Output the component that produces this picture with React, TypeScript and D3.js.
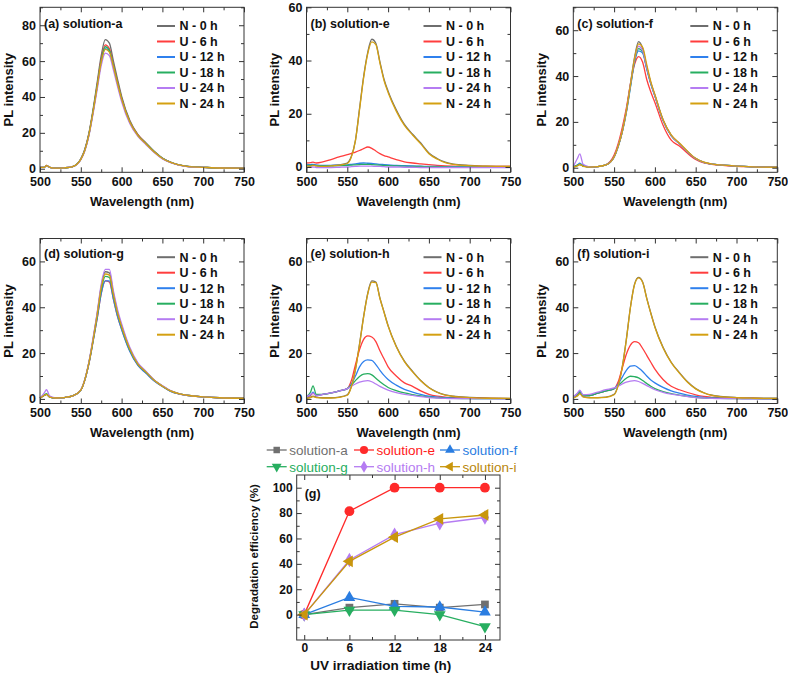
import React, { useRef, useEffect } from "react";
import * as d3 from "d3";

// wavelength grid (nm) shared by all spectra
const wavelengths = [500, 505, 508, 512, 520, 530, 540, 550, 555, 560, 565, 570, 575, 580, 585, 590, 595, 600, 610, 620, 630, 640, 650, 660, 670, 680, 700, 720, 750];

const seriesNames = ["N - 0 h", "U - 6 h", "U - 12 h", "U - 18 h", "U - 24 h", "N - 24 h"];
const seriesColors = ["#6e6e6e", "#ff3d3d", "#2f80ed", "#27ae60", "#b57cf2", "#d4a011"];

// (a) solution-a
const aN0 = [0.8, 0.8, 1.8, 0.8, 0.3, 0.5, 1.2, 5.5, 11, 20, 33, 48, 63, 72, 70, 60, 50, 40.5, 27, 19, 14.4, 9.7, 6, 3.7, 2.2, 1.4, 0.8, 0.4, 0.3];
const aU6 = [0.8, 0.8, 1.8, 0.8, 0.3, 0.5, 1.2, 5.3, 10.6, 19.5, 32, 46.5, 61, 69, 67, 58, 48.5, 39.5, 26.5, 19, 14, 9.5, 5.8, 3.6, 2.1, 1.3, 0.8, 0.4, 0.3];
const aU12 = [0.8, 0.8, 1.6, 0.8, 0.3, 0.5, 1.2, 5.2, 10.4, 19, 31.5, 45.5, 59.5, 67, 65.5, 57, 47.5, 38.8, 26, 18.5, 13.8, 9.3, 5.7, 3.5, 2.1, 1.3, 0.8, 0.4, 0.3];
const aU18 = [0.8, 0.8, 1.6, 0.8, 0.3, 0.5, 1.2, 5.3, 10.5, 19.3, 32, 46, 60, 68, 66, 57.5, 48, 39, 26.2, 18.6, 13.9, 9.4, 5.8, 3.6, 2.1, 1.3, 0.8, 0.4, 0.3];
const aU24 = [0.8, 0.8, 1.6, 0.8, 0.3, 0.5, 1.1, 5, 10, 18.5, 30.5, 44, 57.5, 64.5, 63, 55, 46, 37.5, 25.2, 18, 13.4, 9, 5.5, 3.4, 2, 1.2, 0.7, 0.4, 0.3];
const aN24 = [0.8, 0.8, 1.7, 0.8, 0.3, 0.5, 1.2, 5.2, 10.3, 19, 31.5, 45.5, 59.5, 66.5, 65, 57, 47.5, 38.8, 26, 18.5, 13.8, 9.3, 5.7, 3.5, 2.1, 1.3, 0.8, 0.4, 0.3];

// (b) solution-e
const bN0 = [0.5, 0.5, 0.8, 0.5, 0.3, 0.5, 0.8, 1.5, 4, 10, 22, 34, 43, 48, 46.5, 39.5, 33, 28.5, 21.5, 16, 12.3, 9, 5.3, 3.2, 1.8, 1.1, 0.6, 0.3, 0.2];
const bU6 = [1.5, 1.6, 1.8, 1.5, 1.9, 2.8, 3.8, 4.6, 5.1, 5.6, 6.2, 6.9, 7.5, 7, 6, 5, 4.3, 3.8, 2.8, 1.9, 1.5, 1.2, 0.9, 0.6, 0.4, 0.3, 0.2, 0.2, 0.2];
const bU12 = [1, 0.9, 1, 0.8, 0.6, 0.6, 0.7, 0.8, 1, 1.2, 1.4, 1.5, 1.4, 1.3, 1.2, 1, 0.9, 0.8, 0.6, 0.5, 0.4, 0.3, 0.2, 0.2, 0.1, 0.1, 0.1, 0, 0];
const bU18 = [0.6, 0.6, 0.7, 0.5, 0.4, 0.4, 0.5, 0.6, 0.7, 0.8, 0.9, 1, 1, 0.9, 0.8, 0.7, 0.6, 0.5, 0.4, 0.3, 0.2, 0.2, 0.1, 0.1, 0.1, 0, 0, 0, 0];
const bU24 = [0, 0, 0, -0.2, -0.2, -0.2, -0.1, 0, 0.1, 0.2, 0.3, 0.3, 0.3, 0.3, 0.2, 0.2, 0.1, 0, 0, -0.1, -0.1, -0.2, -0.2, -0.2, -0.2, -0.2, -0.2, -0.2, -0.2];
const bN24 = [0.3, 0.3, 0.6, 0.4, 0.2, 0.4, 0.7, 1.3, 3.8, 10, 21.5, 33.5, 42.5, 47, 46, 39, 32.5, 28, 21, 15.6, 12, 8.7, 5, 3, 1.6, 1, 0.5, 0.3, 0.2];

// (c) solution-f
const cN0 = [0.5, 1, 1.5, 0.8, 0.4, 0.5, 1.2, 4.8, 9.5, 16, 25, 36.6, 48, 55, 52, 44, 37, 31.5, 20.7, 14, 10.5, 7, 4, 2.3, 1.6, 1.2, 0.7, 0.4, 0.2];
const cU6 = [0.5, 1, 1.5, 0.8, 0.4, 0.5, 1.3, 5.5, 10.5, 17.5, 26, 36.5, 45, 48.5, 46, 38.5, 33, 28.5, 18.5, 12, 9.5, 6.3, 3.6, 2.1, 1.5, 1.1, 0.6, 0.4, 0.2];
const cU12 = [0.5, 1.2, 2, 0.9, 0.4, 0.5, 1.2, 4.6, 9.2, 15.5, 24, 35, 46, 51, 50, 43, 36.5, 31.3, 20.7, 14, 10.5, 7, 4, 2.3, 1.6, 1.2, 0.7, 0.4, 0.2];
const cU18 = [0.5, 1, 1.5, 0.8, 0.4, 0.5, 1.2, 4.7, 9.3, 15.7, 24.5, 35.5, 46.5, 52, 50.5, 43.5, 36.8, 31.4, 20.7, 14, 10.5, 7, 4, 2.3, 1.6, 1.2, 0.7, 0.4, 0.2];
const cU24 = [0.5, 4, 6, 1.5, 0.4, 0.5, 1.2, 4.7, 9.4, 15.8, 24.7, 36, 47, 53, 51, 43.8, 37, 31.5, 20.8, 14.1, 10.5, 7, 4, 2.3, 1.6, 1.2, 0.7, 0.4, 0.2];
const cN24 = [0.3, 0.8, 1.5, 0.6, 0.3, 0.5, 1.2, 4.7, 9.4, 15.8, 24.7, 36.2, 47.5, 54, 52.5, 45, 37.5, 32, 21, 14.3, 10.8, 7.2, 4.1, 2.4, 1.6, 1.2, 0.7, 0.4, 0.2];

// (d) solution-g
const dN0 = [0.3, 1.5, 2, 0.8, 0.4, 0.6, 1.3, 3.8, 8.5, 16, 26, 37, 49, 55.5, 55, 46, 38, 32, 22, 15.4, 11.8, 8.2, 5.7, 3.5, 2.3, 1.6, 0.9, 0.5, 0.3];
const dU6 = [0.3, 1.5, 2, 0.8, 0.4, 0.6, 1.3, 3.8, 8.3, 15.5, 25, 35, 46, 51.5, 51, 43.5, 36, 30.5, 21, 14.7, 11.3, 7.9, 5.5, 3.4, 2.2, 1.5, 0.9, 0.5, 0.3];
const dU12 = [0.3, 1.5, 2, 0.8, 0.4, 0.6, 1.3, 3.8, 8.3, 15.5, 25, 35, 46, 51.5, 51.5, 43.5, 36, 30.3, 20.8, 14.6, 11.2, 7.8, 5.4, 3.3, 2.2, 1.5, 0.9, 0.5, 0.3];
const dU18 = [0.3, 1.7, 2.3, 0.8, 0.4, 0.6, 1.3, 3.8, 8.4, 15.8, 25.5, 36, 47.5, 53.5, 53, 45, 37.2, 31.3, 21.5, 15.1, 11.6, 8.1, 5.6, 3.5, 2.3, 1.6, 0.9, 0.5, 0.3];
const dU24 = [0.3, 2.5, 4, 1.2, 0.4, 0.6, 1.3, 3.9, 8.6, 16.3, 26.5, 37.5, 50, 56.5, 56.5, 47, 39, 32.8, 22.5, 15.7, 12, 8.3, 5.8, 3.6, 2.3, 1.6, 0.9, 0.5, 0.3];
const dN24 = [0.3, 1.5, 2, 0.8, 0.4, 0.6, 1.3, 3.8, 8.4, 15.8, 25.5, 36.5, 48.5, 54.5, 54, 45.5, 37.6, 31.6, 21.8, 15.2, 11.7, 8.1, 5.6, 3.5, 2.3, 1.6, 0.9, 0.5, 0.3];

// (e) solution-h
const eN0 = [0.5, 0.8, 1.2, 0.8, 0.5, 0.5, 0.8, 1.8, 5.5, 13, 24, 36, 46, 51.5, 51, 44, 38, 32, 23, 16.5, 12, 8, 5, 3, 1.8, 1.2, 0.7, 0.4, 0.2];
const eU6 = [1, 1.5, 2.5, 1.5, 2, 2.6, 3.5, 4.5, 8, 15, 21.5, 26, 27.5, 27, 25, 21, 17.5, 14, 10, 7, 5.5, 3.5, 2, 1.2, 0.8, 0.5, 0.3, 0.2, 0.1];
const eU12 = [1, 1.8, 3, 1.5, 2, 2.6, 3.5, 4.5, 6.5, 10, 14, 16.3, 17, 16.8, 15, 12.5, 10.3, 8.5, 6, 4.2, 3, 2, 1.2, 0.8, 0.5, 0.3, 0.2, 0.1, 0.1];
const eU18 = [1, 3, 5.7, 2, 2, 2.6, 3.5, 4.5, 6, 8, 9.8, 10.8, 11, 10.5, 9, 7.5, 6.2, 5, 3.6, 2.6, 1.9, 1.3, 0.8, 0.5, 0.3, 0.2, 0.1, 0.1, 0.1];
const eU24 = [1, 2, 2.5, 1.5, 2, 2.6, 3.5, 4.5, 5.5, 6.5, 7.3, 7.8, 8, 7.5, 6.5, 5.5, 4.6, 3.8, 2.7, 2, 1.5, 1, 0.6, 0.4, 0.2, 0.1, 0.1, 0.1, 0];
const eN24 = [0.3, 0.6, 1, 0.6, 0.4, 0.4, 0.7, 1.6, 5.3, 12.8, 23.7, 35.7, 45.7, 51, 50.7, 43.8, 37.8, 31.8, 22.8, 16.3, 11.8, 7.9, 4.9, 2.9, 1.7, 1.1, 0.6, 0.3, 0.2];

// (f) solution-i
const fN0 = [0.5, 1.5, 2.5, 1, 0.6, 0.6, 0.8, 2, 6, 14, 26, 40, 50, 53, 51, 44, 37.5, 31.5, 22.5, 16, 11.5, 7.5, 4.5, 2.7, 1.6, 1.1, 0.6, 0.4, 0.3];
const fU6 = [1, 2, 3, 1.5, 1.5, 2.5, 3.5, 4.5, 7.5, 13.5, 19.5, 23.5, 25, 24.5, 22, 19, 16, 13, 8.5, 5.5, 4, 2.8, 1.8, 1.1, 0.7, 0.4, 0.3, 0.2, 0.1];
const fU12 = [1, 2.2, 3.5, 1.5, 1.5, 2.5, 3.5, 4.5, 6.5, 9.5, 12.5, 14.3, 14.5, 13.5, 12, 10, 8.3, 7, 5, 3.5, 2.5, 1.7, 1.1, 0.7, 0.4, 0.3, 0.2, 0.1, 0.1];
const fU18 = [1, 2, 3, 1.5, 1.5, 2.5, 3.5, 4.5, 5.8, 7.5, 9, 9.9, 9.7, 9.2, 8, 6.7, 5.5, 4.5, 3.2, 2.3, 1.7, 1.1, 0.7, 0.4, 0.3, 0.2, 0.1, 0.1, 0];
const fU24 = [1, 2.5, 3.8, 1.8, 2, 3, 4, 4.8, 5.6, 6.5, 7.3, 7.8, 8, 7.6, 6.8, 5.8, 4.9, 4, 2.9, 2.1, 1.5, 1, 0.6, 0.4, 0.2, 0.1, 0.1, 0, 0];
const fN24 = [0.4, 1.3, 2.2, 0.9, 0.5, 0.5, 0.7, 1.8, 5.8, 13.8, 25.8, 39.8, 49.8, 52.8, 50.8, 43.8, 37.3, 31.3, 22.3, 15.8, 11.3, 7.3, 4.4, 2.6, 1.5, 1, 0.5, 0.3, 0.2];

const panelTitles = ["(a) solution-a", "(b) solution-e", "(c) solution-f", "(d) solution-g", "(e) solution-h", "(f) solution-i"];
const panelYMax = [90, 60, 70, 70, 70, 70];
const panelYTicks = [[0, 20, 40, 60, 80], [0, 20, 40, 60], [0, 20, 40, 60], [0, 20, 40, 60], [0, 20, 40, 60], [0, 20, 40, 60]];
const panelSeries = [
    [aN0, aU6, aU12, aU18, aU24, aN24],
    [bN0, bU6, bU12, bU18, bU24, bN24],
    [cN0, cU6, cU12, cU18, cU24, cN24],
    [dN0, dU6, dU12, dU18, dU24, dN24],
    [eN0, eU6, eU12, eU18, eU24, eN24],
    [fN0, fU6, fU12, fU18, fU24, fN24],
];
const wlTicks = [500, 550, 600, 650, 700, 750];
const wlMinor = [525, 575, 625, 675, 725];

// (g) degradation efficiency
const hours = [0, 6, 12, 18, 24];
const hourMinor = [3, 9, 15, 21];
const effNames = ["solution-a", "solution-e", "solution-f", "solution-g", "solution-h", "solution-i"];
const effColors = ["#707070", "#ff2a2a", "#2a7de1", "#27ae60", "#b57cf2", "#c9960c"];
const effTextColors = ["#707070", "#ff1a1a", "#2a7de1", "#27ae60", "#b57cf2", "#b8860b"];
const effA = [0, 5.5, 8.5, 5.5, 8];
const effE = [0, 81.5, 100, 100, 100];
const effF = [0, 13.5, 6.5, 6, 2];
const effG = [0, 3.5, 3.5, 0, -9.5];
const effH = [0, 43, 63, 72, 76.5];
const effI = [0, 42, 61, 75.5, 78.5];
const effSeries = [effA, effE, effF, effG, effH, effI];
const effTicks = [0, 20, 40, 60, 80, 100];
const effMinor = [-10, 10, 30, 50, 70, 90];

const font = '"Liberation Sans", Arial, Helvetica, sans-serif';

const App = () => {
    const ref = useRef(null);

    useEffect(() => {
        const svg = d3.select(ref.current);
        svg.selectAll('*').remove();

        const plotW = 204;
        const plotH = 165;
        const colX = [40, 306.5, 573.3];
        const rowY = [7.3, 238.5];

        // draw a boxed frame with inward ticks on all four sides
        const drawFrame = (g, x, y, w, h, xMajor, xMinor, yMajor, yMinor, xPad, labelSize) => {
            const axes = [
                {ax: d3.axisBottom(x).tickValues(xMajor).tickSize(-5).tickPadding(xPad), t: `translate(0,${h})`},
                {ax: d3.axisBottom(x).tickValues(xMinor).tickSize(-3).tickFormat(() => ''), t: `translate(0,${h})`},
                {ax: d3.axisTop(x).tickValues(xMajor).tickSize(-5).tickFormat(() => ''), t: 'translate(0,0)'},
                {ax: d3.axisTop(x).tickValues(xMinor).tickSize(-3).tickFormat(() => ''), t: 'translate(0,0)'},
                {ax: d3.axisLeft(y).tickValues(yMajor).tickSize(-5).tickPadding(4), t: 'translate(0,0)'},
                {ax: d3.axisLeft(y).tickValues(yMinor).tickSize(-3).tickFormat(() => ''), t: 'translate(0,0)'},
                {ax: d3.axisRight(y).tickValues(yMajor).tickSize(-5).tickFormat(() => ''), t: `translate(${w},0)`},
                {ax: d3.axisRight(y).tickValues(yMinor).tickSize(-3).tickFormat(() => ''), t: `translate(${w},0)`},
            ];
            axes.forEach(a => {
                const ag = g.append('g').attr('transform', a.t).call(a.ax);
                ag.select('.domain').remove();
                ag.selectAll('line').attr('stroke', '#333').attr('stroke-width', 1);
                ag.selectAll('text')
                    .style('font-family', font)
                    .style('font-weight', 'bold')
                    .style('font-size', labelSize)
                    .attr('fill', '#111');
            });
            g.append('rect')
                .attr('width', w).attr('height', h)
                .attr('fill', 'none').attr('stroke', '#333').attr('stroke-width', 1);
        };

        // spectra panels
        panelTitles.forEach((title, pi) => {
            const left = colX[pi % 3];
            const top = rowY[Math.floor(pi / 3)];
            const g = svg.append('g').attr('transform', `translate(${left},${top})`);

            const x = d3.scaleLinear().domain([500, 750]).range([0, plotW]);
            const y = d3.scaleLinear().domain([-2, panelYMax[pi]]).range([plotH, 0]);

            const line = d3.line()
                .x((d, i) => x(wavelengths[i]))
                .y(d => y(d))
                .curve(d3.curveMonotoneX);

            panelSeries[pi].forEach((s, si) => {
                g.append('path')
                    .datum(s)
                    .attr('fill', 'none')
                    .attr('stroke', seriesColors[si])
                    .attr('stroke-width', 1.3)
                    .attr('stroke-linejoin', 'round')
                    .attr('d', line);
            });

            const yMinor = d3.range(10, panelYMax[pi] + 1, 20);
            drawFrame(g, x, y, plotW, plotH, wlTicks, wlMinor, panelYTicks[pi], yMinor, 5, '12.5px');

            g.append('text')
                .attr('x', 4).attr('y', pi < 3 ? 20.5 : 19)
                .text(title)
                .style('font-family', font).style('font-weight', 'bold').style('font-size', '12.5px')
                .attr('fill', '#111');

            // legend
            seriesNames.forEach((name, si) => {
                const ly = 18.7 + si * 15.5;
                g.append('line')
                    .attr('x1', 117).attr('x2', 135).attr('y1', ly).attr('y2', ly)
                    .attr('stroke', seriesColors[si]).attr('stroke-width', 2);
                g.append('text')
                    .attr('x', 139.5).attr('y', ly + 4.5)
                    .text(name)
                    .style('font-family', font).style('font-weight', 'bold').style('font-size', '12.5px')
                    .attr('fill', '#111');
            });

            g.append('text')
                .attr('x', plotW / 2).attr('y', plotH + 33.5)
                .attr('text-anchor', 'middle')
                .text('Wavelength (nm)')
                .style('font-family', font).style('font-weight', 'bold').style('font-size', '13px')
                .attr('fill', '#111');

            g.append('text')
                .attr('transform', `translate(${-27.5},${plotH / 2}) rotate(-90)`)
                .attr('text-anchor', 'middle')
                .text('PL intensity')
                .style('font-family', font).style('font-weight', 'bold').style('font-size', '13px')
                .attr('fill', '#111');
        });

        // (g) degradation efficiency panel
        const gl = 296.7, gt = 475, gw = 203.3, gh = 165;
        const g = svg.append('g').attr('transform', `translate(${gl},${gt})`);
        const xg = d3.scaleLinear().domain([-1, 26]).range([0, gw]);
        const yg = d3.scaleLinear().domain([-20, 110]).range([gh, 0]);

        const effLine = d3.line()
            .x((d, i) => xg(hours[i]))
            .y(d => yg(d));

        const symbols = [
            {type: d3.symbolSquare, rot: 0, size: 60},
            {type: d3.symbolCircle, rot: 0, size: 75},
            {type: d3.symbolTriangle, rot: 0, size: 60},
            {type: d3.symbolTriangle, rot: 180, size: 60},
            {type: d3.symbolDiamond, rot: 0, size: 60},
            {type: d3.symbolTriangle, rot: -90, size: 60},
        ];

        effSeries.forEach((s, si) => {
            g.append('path')
                .datum(s)
                .attr('fill', 'none')
                .attr('stroke', effColors[si])
                .attr('stroke-width', 1.3)
                .attr('d', effLine);
            const sym = d3.symbol().type(symbols[si].type).size(symbols[si].size);
            g.selectAll(null)
                .data(s)
                .enter()
                .append('path')
                .attr('d', sym)
                .attr('transform', (d, i) => `translate(${xg(hours[i])},${yg(d)}) rotate(${symbols[si].rot})`)
                .attr('fill', effColors[si]);
        });

        drawFrame(g, xg, yg, gw, gh, hours, hourMinor, effTicks, effMinor, 3, '12px');

        g.append('text')
            .attr('x', 8).attr('y', 22.5)
            .text('(g)')
            .style('font-family', font).style('font-weight', 'bold').style('font-size', '12.5px')
            .attr('fill', '#111');

        g.append('text')
            .attr('x', 84).attr('y', gh + 29.5)
            .attr('text-anchor', 'middle')
            .text('UV irradiation time (h)')
            .style('font-family', font).style('font-weight', 'bold').style('font-size', '13.5px')
            .attr('fill', '#111');

        g.append('text')
            .attr('transform', `translate(${-38.5},${gh / 2 - 1}) rotate(-90)`)
            .attr('text-anchor', 'middle')
            .text('Degradation efficiency (%)')
            .style('font-family', font).style('font-weight', 'bold').style('font-size', '11.5px')
            .attr('fill', '#111');

        // (g) legend, two rows of three
        const legX = [266.7, 354, 440];
        const legY = [450, 466.7];
        effNames.forEach((name, si) => {
            const lx = legX[si % 3];
            const ly = legY[Math.floor(si / 3)];
            svg.append('line')
                .attr('x1', lx).attr('x2', lx + 20).attr('y1', ly).attr('y2', ly)
                .attr('stroke', effColors[si]).attr('stroke-width', 1.3);
            svg.append('path')
                .attr('d', d3.symbol().type(symbols[si].type).size(symbols[si].size * 0.7)())
                .attr('transform', `translate(${lx + 10},${ly}) rotate(${symbols[si].rot})`)
                .attr('fill', effColors[si]);
            svg.append('text')
                .attr('x', lx + 22.5).attr('y', ly + 5)
                .text(name)
                .style('font-family', font).style('font-size', '13.5px')
                .attr('fill', effTextColors[si]);
        });
    }, []);

    return (
        <div style={{position: 'absolute', left: 0, top: 0}}>
            <svg ref={ref} width={788} height={673} style={{display: 'block', background: '#fff'}}></svg>
        </div>
    );
};

export default App;
